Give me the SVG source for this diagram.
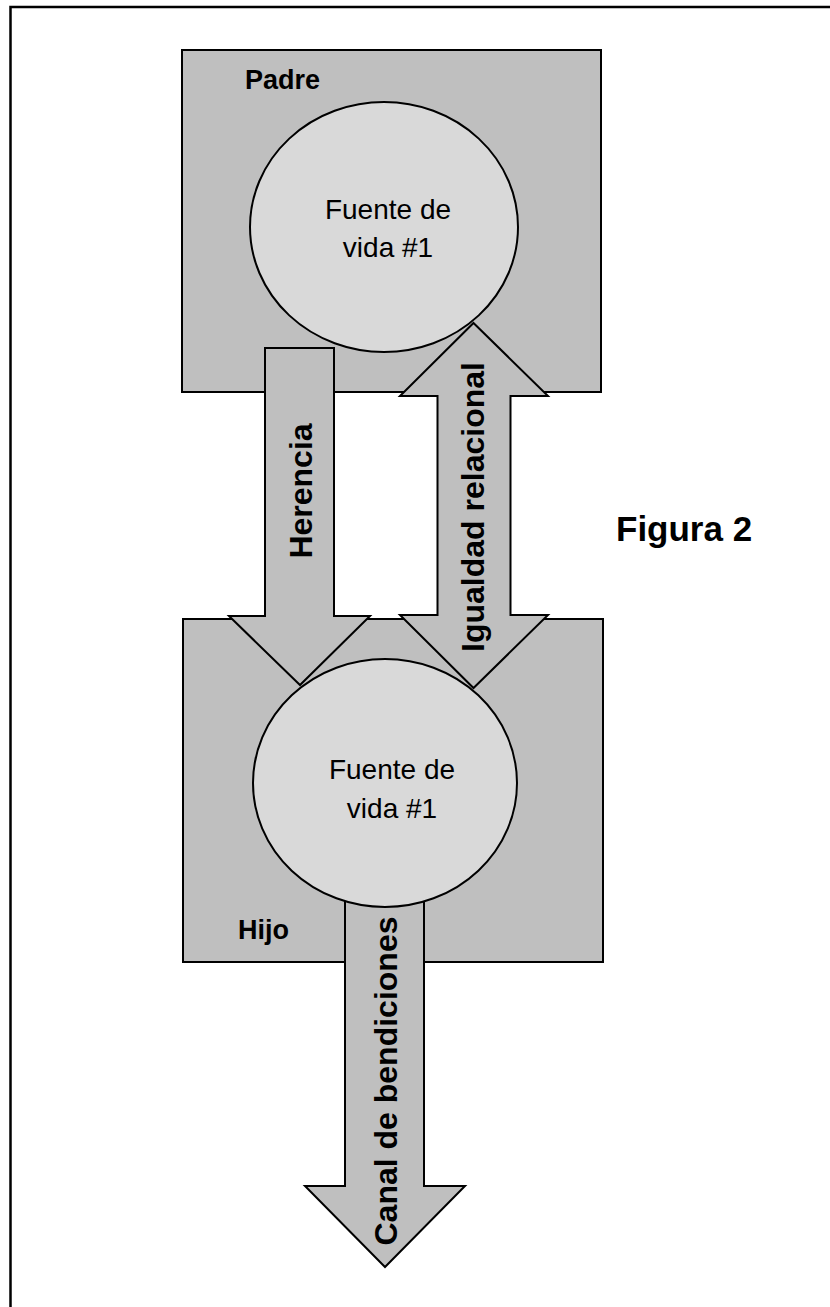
<svg xmlns="http://www.w3.org/2000/svg" width="830" height="1307" viewBox="0 0 830 1307">
<style>
.box{fill:#bfbfbf;stroke:#000;stroke-width:2}
.circ{fill:#d9d9d9;stroke:#000;stroke-width:2}
.arr{fill:#bfbfbf;stroke:#000;stroke-width:2;stroke-linejoin:miter}
.lbl{font-family:"Liberation Sans",Arial,sans-serif;font-weight:bold;fill:#000}
.ctext{font-family:"Liberation Sans",Arial,sans-serif;font-size:28px;fill:#000;text-anchor:middle}
.atext{font-family:"Liberation Sans",Arial,sans-serif;font-weight:bold;font-size:32px;fill:#000;text-anchor:middle}
</style>
<rect x="0" y="0" width="830" height="1307" fill="#fff"/>
<rect x="10.5" y="7" width="900" height="1400" fill="none" stroke="#000" stroke-width="2.5"/>
<g id="padre-box">
<rect class="box" x="182" y="50" width="419" height="342"/>
<text class="lbl" x="245" y="89" font-size="27">Padre</text>
</g>
<g id="hijo-box">
<rect class="box" x="183" y="619" width="420" height="343"/>
<text class="lbl" x="238" y="939" font-size="27">Hijo</text>
</g>
<g id="connectors">
<g id="herencia">
<polygon class="arr" points="265,348 334,348 334,616 370,616 300,685 229,616 265,616"/>
<text class="atext" transform="translate(311.7,491) rotate(-90)">Herencia</text>
</g>
<g id="igualdad">
<polygon class="arr" points="473.5,323 548,396 510.5,396 510.5,615 548,615 473.5,688 400,615 437.5,615 437.5,396 400,396"/>
<text class="atext" transform="translate(484.3,507) rotate(-90)">Igualdad relacional</text>
</g>
<g id="canal">
<polygon class="arr" points="345,880 424,880 424,1186 465,1186 385,1267 305,1186 345,1186"/>
<text class="atext" transform="translate(396.7,1081) rotate(-90)">Canal de bendiciones</text>
</g>
</g>
<g id="fuente-padre">
<ellipse class="circ" cx="384" cy="227" rx="134" ry="125"/>
<text class="ctext" x="388" y="219">Fuente de</text>
<text class="ctext" x="388" y="257">vida #1</text>
</g>
<g id="fuente-hijo">
<ellipse class="circ" cx="385" cy="783" rx="132" ry="124"/>
<text class="ctext" x="392" y="779">Fuente de</text>
<text class="ctext" x="392" y="818">vida #1</text>
</g>
<g id="figura">
<text class="lbl" x="616" y="541" font-size="35">Figura 2</text>
</g>
</svg>
